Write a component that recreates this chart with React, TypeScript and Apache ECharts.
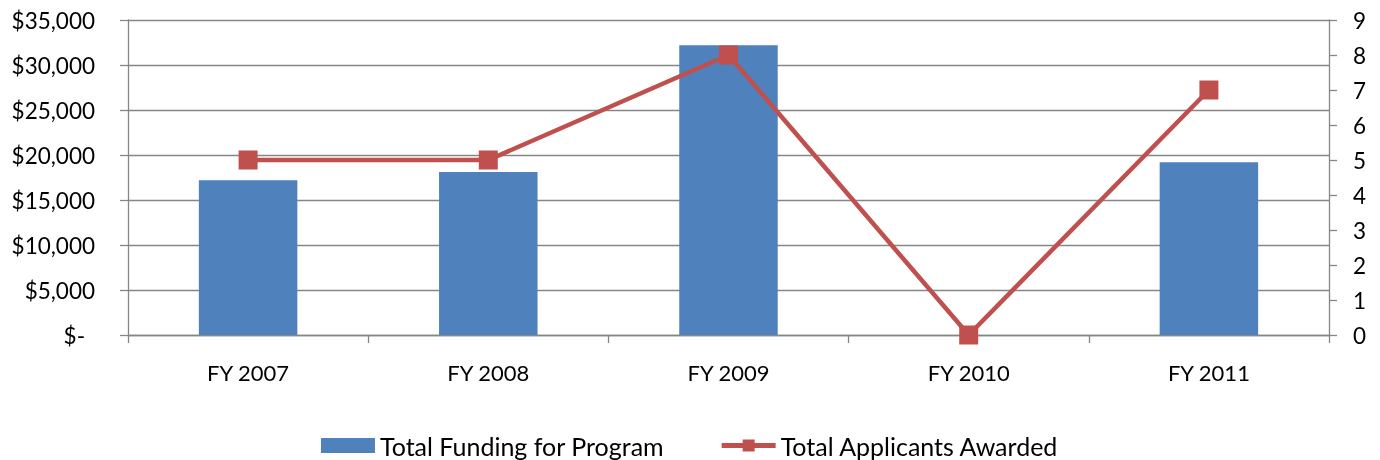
import React, { useEffect, useRef } from "react";
import * as echarts from "echarts";

const categories = ["FY 2007", "FY 2008", "FY 2009", "FY 2010", "FY 2011"];
const totalFunding = [17200, 18100, 32200, 0, 19200];
const totalApplicants = [5, 5, 8, 0, 7];

const FONT = "Lato";
const AXIS_COLOR = "#868686";

export default function App() {
  const ref = useRef<HTMLDivElement>(null);
  useEffect(() => {
    if (!ref.current) return;
    const chart = echarts.init(ref.current, null, { renderer: "svg" });
    chart.setOption({
      animation: false,
      textStyle: { fontFamily: FONT },
      grid: { left: 128, right: 51, top: 20, bottom: 125, containLabel: false },
      legend: {
        top: 428,
        left: "center",
        padding: [5, 5, 0, 5],
        itemGap: 55,
        itemHeight: 15,
        itemWidth: 54,
        textStyle: { fontFamily: FONT, fontSize: 25, color: "#000" },
        data: [
          { name: "Total Funding for Program", icon: "rect" },
          { name: "Total Applicants Awarded", lineStyle: { width: 5 } },
        ],
      },
      xAxis: {
        type: "category",
        data: categories,
        axisLine: { lineStyle: { color: AXIS_COLOR, width: 1.3 } },
        axisTick: { show: true, length: 8, lineStyle: { color: AXIS_COLOR, width: 1.3 } },
        axisLabel: { fontFamily: FONT, fontSize: 22, color: "#000", margin: 26 },
      },
      yAxis: [
        {
          type: "value",
          min: 0,
          max: 35000,
          interval: 5000,
          axisLine: { show: true, lineStyle: { color: AXIS_COLOR, width: 1.3 } },
          axisTick: { show: true, length: 8, lineStyle: { color: AXIS_COLOR, width: 1.3 } },
          splitLine: { show: true, lineStyle: { color: AXIS_COLOR, width: 1.3 } },
          axisLabel: {
            fontFamily: FONT,
            fontSize: 22.5,
            color: "#000",
            margin: 33,
            formatter: (v: number) =>
              v === 0 ? "{z|$-}" : "$" + v.toLocaleString("en-US"),
            rich: {
              z: { fontFamily: FONT, fontSize: 22.5, color: "#000", padding: [0, 10, 0, 0] },
            },
          },
        },
        {
          type: "value",
          min: 0,
          max: 9,
          interval: 1,
          position: "right",
          axisLine: { show: true, lineStyle: { color: AXIS_COLOR, width: 1.3 } },
          axisTick: { show: true, length: 8, lineStyle: { color: AXIS_COLOR, width: 1.3 } },
          splitLine: { show: false },
          axisLabel: { fontFamily: FONT, fontSize: 22.5, color: "#000", margin: 24 },
        },
      ],
      series: [
        {
          name: "Total Funding for Program",
          type: "bar",
          data: totalFunding,
          barWidth: "41%",
          itemStyle: { color: "#4F81BD" },
          yAxisIndex: 0,
        },
        {
          name: "Total Applicants Awarded",
          type: "line",
          data: totalApplicants,
          yAxisIndex: 1,
          symbol: "rect",
          symbolSize: 19,
          lineStyle: { color: "#C0504D", width: 4.5 },
          itemStyle: { color: "#C0504D" },
        },
      ],
    });
    return () => chart.dispose();
  }, []);
  return (
    <div
      ref={ref}
      style={{ position: "fixed", left: 0, top: 0, width: 1380, height: 460 }}
    />
  );
}
